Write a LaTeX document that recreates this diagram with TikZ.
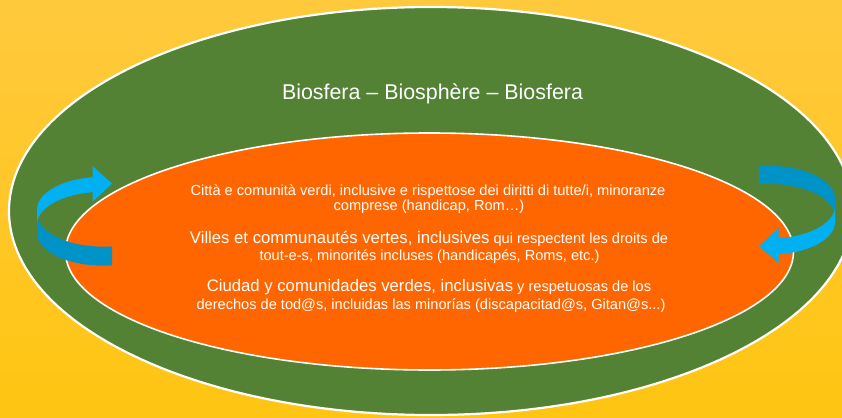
\documentclass[tikz,border=0pt]{standalone}
\usepackage{fontspec}
\setmainfont{Liberation Sans}
\usetikzlibrary{shapes.geometric}
\definecolor{bgtop}{HTML}{FFC93D}
\definecolor{bgbot}{HTML}{FFC512}
\definecolor{biogreen}{HTML}{548235}
\definecolor{cityorange}{HTML}{FF6600}
\definecolor{arrlight}{HTML}{00B0F0}
\definecolor{arrdark}{HTML}{0093C8}
\begin{document}
\begin{tikzpicture}[x=1pt,y=-1pt,
  ring/.style={ellipse, draw=white, inner sep=0pt, outer sep=0pt},
  txt/.style={text=white, inner sep=0pt, anchor=base},
  small/.style={font=\fontsize{14.6}{17}\selectfont},
  big/.style={font=\fontsize{16.7}{19}\selectfont}]
\useasboundingbox (0,0) rectangle (842,417);
\clip (0,0) rectangle (842,417);
\shade[top color=bgtop, bottom color=bgbot] (0,0) rectangle (842,417);
% ellipses
\node[ring, fill=biogreen, line width=2.2pt, minimum width=844pt, minimum height=408pt] (biosphere) at (431,211) {};
\node[ring, fill=cityorange, line width=1.6pt, minimum width=728pt, minimum height=237pt] (city) at (429.5,251.5) {};
% title
\node[txt, font=\fontsize{21.4}{25}\selectfont] (title) at (432.5,99.5) {Biosfera – Biosphère – Biosfera};
% body text
\node[txt, small] (it1) at (428,195) {Città e comunità verdi, inclusive e rispettose dei diritti di tutte/i, minoranze};
\node[txt, small] (it2) at (429,210.7) {comprese (handicap, Rom…)};
\node[txt] (fr1) at (429,243.3) {{\fontsize{16.7}{19}\selectfont Villes et communautés vertes, inclusives}{\fontsize{14.6}{17}\selectfont{} qui respectent les droits de}};
\node[txt, small] (fr2) at (429.5,260) {tout-e-s, minorités incluses (handicapés, Roms, etc.)};
\node[txt] (es1) at (429,291.7) {{\fontsize{16.7}{19}\selectfont Ciudad y comunidades verdes, inclusivas}{\fontsize{14.6}{17}\selectfont{} y respetuosas de los}};
\node[txt, small] (es2) at (431,309.3) {derechos de tod@s, incluidas las minorías (discapacitad@s, Gitan@s...)};
% left circular arrow
\fill[arrdark] plot[domain=85.9:180, samples=40, variable=\t] ({107+70*cos(\t)}, {220+36*sin(\t)+3*(\t-85.9)/94.1-9.5})
  -- plot[domain=180:85.9, samples=40, variable=\t] ({107+70*cos(\t)}, {220+36*sin(\t)+3*(\t-85.9)/94.1+9.5}) -- cycle;
\fill[arrlight] plot[domain=180:259, samples=40, variable=\t] ({107+70*cos(\t)}, {220+36*sin(\t)-3*(259-\t)/79-7.5})
  -- plot[domain=259:180, samples=40, variable=\t] ({107+70*cos(\t)}, {220+36*sin(\t)-3*(259-\t)/79+7.5}) -- cycle;
\fill[arrlight] (92.5,166) -- (112,183.5) -- (92.5,202) -- cycle;
% right circular arrow
\fill[arrdark] plot[domain=265:360, samples=40, variable=\t] ({765+70*cos(\t)}, {211+36*sin(\t)-3*(\t-265)/95-9})
  -- plot[domain=360:265, samples=40, variable=\t] ({765+70*cos(\t)}, {211+36*sin(\t)-3*(\t-265)/95+9}) -- cycle;
\fill[arrlight] plot[domain=0:79.5, samples=40, variable=\t] ({765+70*cos(\t)}, {211+36*sin(\t)+3*(79.5-\t)/79.5-8})
  -- plot[domain=79.5:0, samples=40, variable=\t] ({765+70*cos(\t)}, {211+36*sin(\t)+3*(79.5-\t)/79.5+8}) -- cycle;
\fill[arrlight] (778.5,228) -- (759,246) -- (778.5,263) -- cycle;
\end{tikzpicture}
\end{document}
